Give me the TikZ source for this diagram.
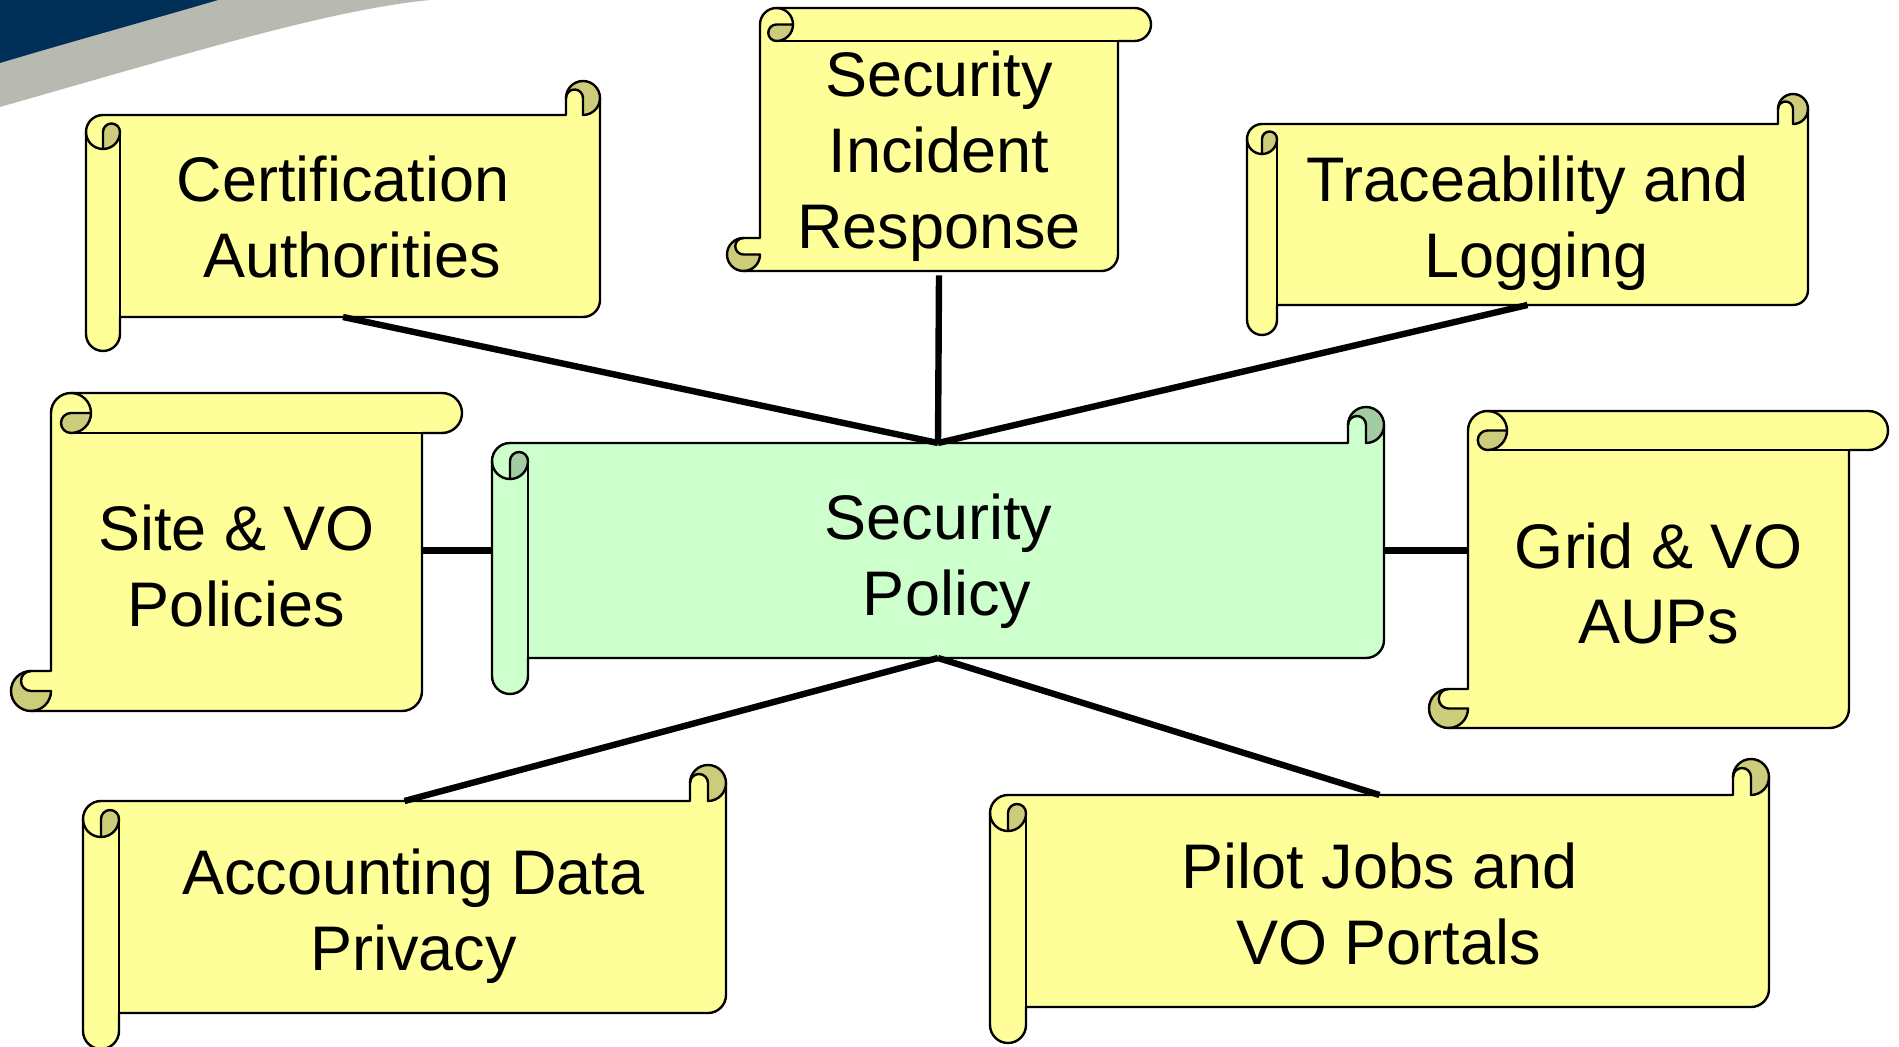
\documentclass[tikz,border=0pt]{standalone}
\usepackage{fontspec}
\setmainfont{Liberation Sans}
\definecolor{scY}{RGB}{255,255,153}
\definecolor{scYd}{RGB}{204,204,122}
\definecolor{scG}{RGB}{204,255,204}
\definecolor{scGd}{RGB}{163,204,163}
\definecolor{navyband}{RGB}{0,48,87}
\definecolor{grayband}{RGB}{184,186,178}
\newcommand\tsp{\hspace*{0.278em}}
\newcommand\lsh{\hspace*{9pt}}
\newcommand\sttop[1][0pt]{\rule{0pt}{\dimexpr0.958em+#1\relax}}
\newcommand\stbot[1][0pt]{\rule[\dimexpr-0.242em-#1\relax]{0pt}{\dimexpr0.242em+#1\relax}}
\tikzset{
  txtbox/.style 2 args={inner sep=0pt, outer sep=0pt, minimum width=#1*0.5pt, minimum height=#2*0.5pt, align=center, font=\fontsize{31.5}{37.8}\selectfont},
  outl/.style={line width=1.2pt, line join=round, line cap=round, draw=black},
  conn/.style={line width=3.2pt, draw=black},
}
% #1 l, #2 t, #3 r, #4 b, #5 c, #6 fill, #7 dark
\newcommand\scrollshape[7]{%
  \pgfmathsetmacro\skL{#1}\pgfmathsetmacro\skT{#2}\pgfmathsetmacro\skR{#3}\pgfmathsetmacro\skB{#4}%
  \pgfmathsetmacro\skc{#5}\pgfmathsetmacro\skh{#5/2}\pgfmathsetmacro\skq{#5/4}%
  \pgfmathsetmacro\skLh{#1+#5/2}\pgfmathsetmacro\skLc{#1+#5}%
  \pgfmathsetmacro\skTh{#2+#5/2}\pgfmathsetmacro\skTc{#2+#5}\pgfmathsetmacro\skTm{#2-#5/2}%
  \pgfmathsetmacro\skRc{#3-#5}\pgfmathsetmacro\skRh{#3-#5/2}%
  \pgfmathsetmacro\skBh{#4+#5/2}\pgfmathsetmacro\skBm{#4-#5/2}%
  \def\skmain{(\skLh,\skT) -- (\skRc,\skT) -- (\skRc,\skTm) arc[start angle=180,end angle=360,radius=\skh] -- (\skR,\skBm) arc[start angle=0,end angle=90,radius=\skh] -- (\skLc,\skB) -- (\skLc,\skBh) arc[start angle=0,end angle=180,radius=\skh] -- (\skL,\skTh) arc[start angle=180,end angle=270,radius=\skh] -- cycle}%
  \fill[#6] \skmain;
  \fill[#7] (\skRh,\skTm) circle[radius=\skh];
  \fill[#6] (\skRc,\skT) -- (\skRc,\skTm) arc[start angle=180,end angle=360,radius=\skq] -- (\skRh,\skT) -- cycle;
  \filldraw[outl,fill=#7] (\skLh,\skTc) -- (\skLh,\skTh) arc[start angle=180,end angle=360,radius=\skq] arc[start angle=0,end angle=90,radius=\skh] -- cycle;
  \draw[outl] (\skL,\skTh) arc[start angle=180,end angle=90,radius=\skh];
  \draw[outl] (\skLc,\skTh) -- (\skLc,\skB);
  \draw[outl] (\skRh,\skT) -- (\skRh,\skTm) arc[start angle=0,end angle=-180,radius=\skq];
  \draw[outl] (\skR,\skTm) arc[start angle=0,end angle=90,radius=\skh];
  \draw[outl] \skmain;
}
\begin{document}
\begin{tikzpicture}[x=0.5pt,y=-0.5pt]
\useasboundingbox (0,0) rectangle (1899,1047);
% corner banner
\fill[grayband] (0,0) -- (430,0) .. controls (330,10) and (200,50) .. (0,107) -- cycle;
\fill[navyband] (0,0) -- (218,0) .. controls (150,20) and (70,42) .. (0,63) -- cycle;
% horizontal scrolls
\scrollshape{86}{115}{600}{317}{34}{scY}{scYd}
\scrollshape{1247}{124}{1808}{305}{30}{scY}{scYd}
\scrollshape{492}{443}{1384}{658}{36}{scG}{scGd}
\scrollshape{83}{801}{726}{1013}{36}{scY}{scYd}
\scrollshape{990}{795}{1769}{1007}{36}{scY}{scYd}
% vertical scrolls (transposed axes)
\begin{scope}[x={(0pt,-0.5pt)},y={(0.5pt,0pt)}]
\scrollshape{8}{760}{271}{1118}{33}{scY}{scYd}
\scrollshape{393}{51}{711}{422}{40}{scY}{scYd}
\scrollshape{411}{1468}{728}{1849}{39}{scY}{scYd}
\end{scope}
% texts
\node[txtbox={514}{202}] (ca) at (343,216) {\lsh\sttop[1pt]Certification\tsp\\\lsh Authorities\stbot};
\node[txtbox={561}{181}] (tl) at (1527.5,214.5) {\lsh\sttop[2.5pt]Traceability and\tsp\\\lsh Logging\stbot};
\node[txtbox={892}{215}] (sp) at (938,550.5) {\lsh\sttop[4.5pt]Security\tsp\\\lsh Policy\stbot};
\node[txtbox={643}{212}] (adp) at (404.5,907) {\lsh\sttop[3pt]Accounting Data\\\lsh Privacy\stbot};
\node[txtbox={779}{212}] (pj) at (1379.5,901) {\lsh\sttop[3pt]Pilot Jobs and\tsp\\\lsh VO Portals\stbot};
\node[txtbox={358}{230}] (sir) at (939,156) {\sttop Security\\Incident\tsp\\Response\stbot[6pt]};
\node[txtbox={371}{278}] (svp) at (236.5,572) {\sttop Site \& VO\\Policies\stbot[6pt]};
\node[txtbox={381}{277}] (gva) at (1658.5,589.5) {\sttop Grid \& VO\\AUPs\stbot[6pt]};
% connectors
\draw[conn] (ca.south) -- (sp.north);
\draw[conn] (sir.south) -- (sp.north);
\draw[conn] (tl.south) -- (sp.north);
\draw[conn] (sp.west -| svp.east) -- (sp.west);
\draw[conn] (sp.east) -- (sp.east -| gva.west);
\draw[conn] (sp.south) -- (adp.north);
\draw[conn] (sp.south) -- (pj.north);
\end{tikzpicture}
\end{document}
